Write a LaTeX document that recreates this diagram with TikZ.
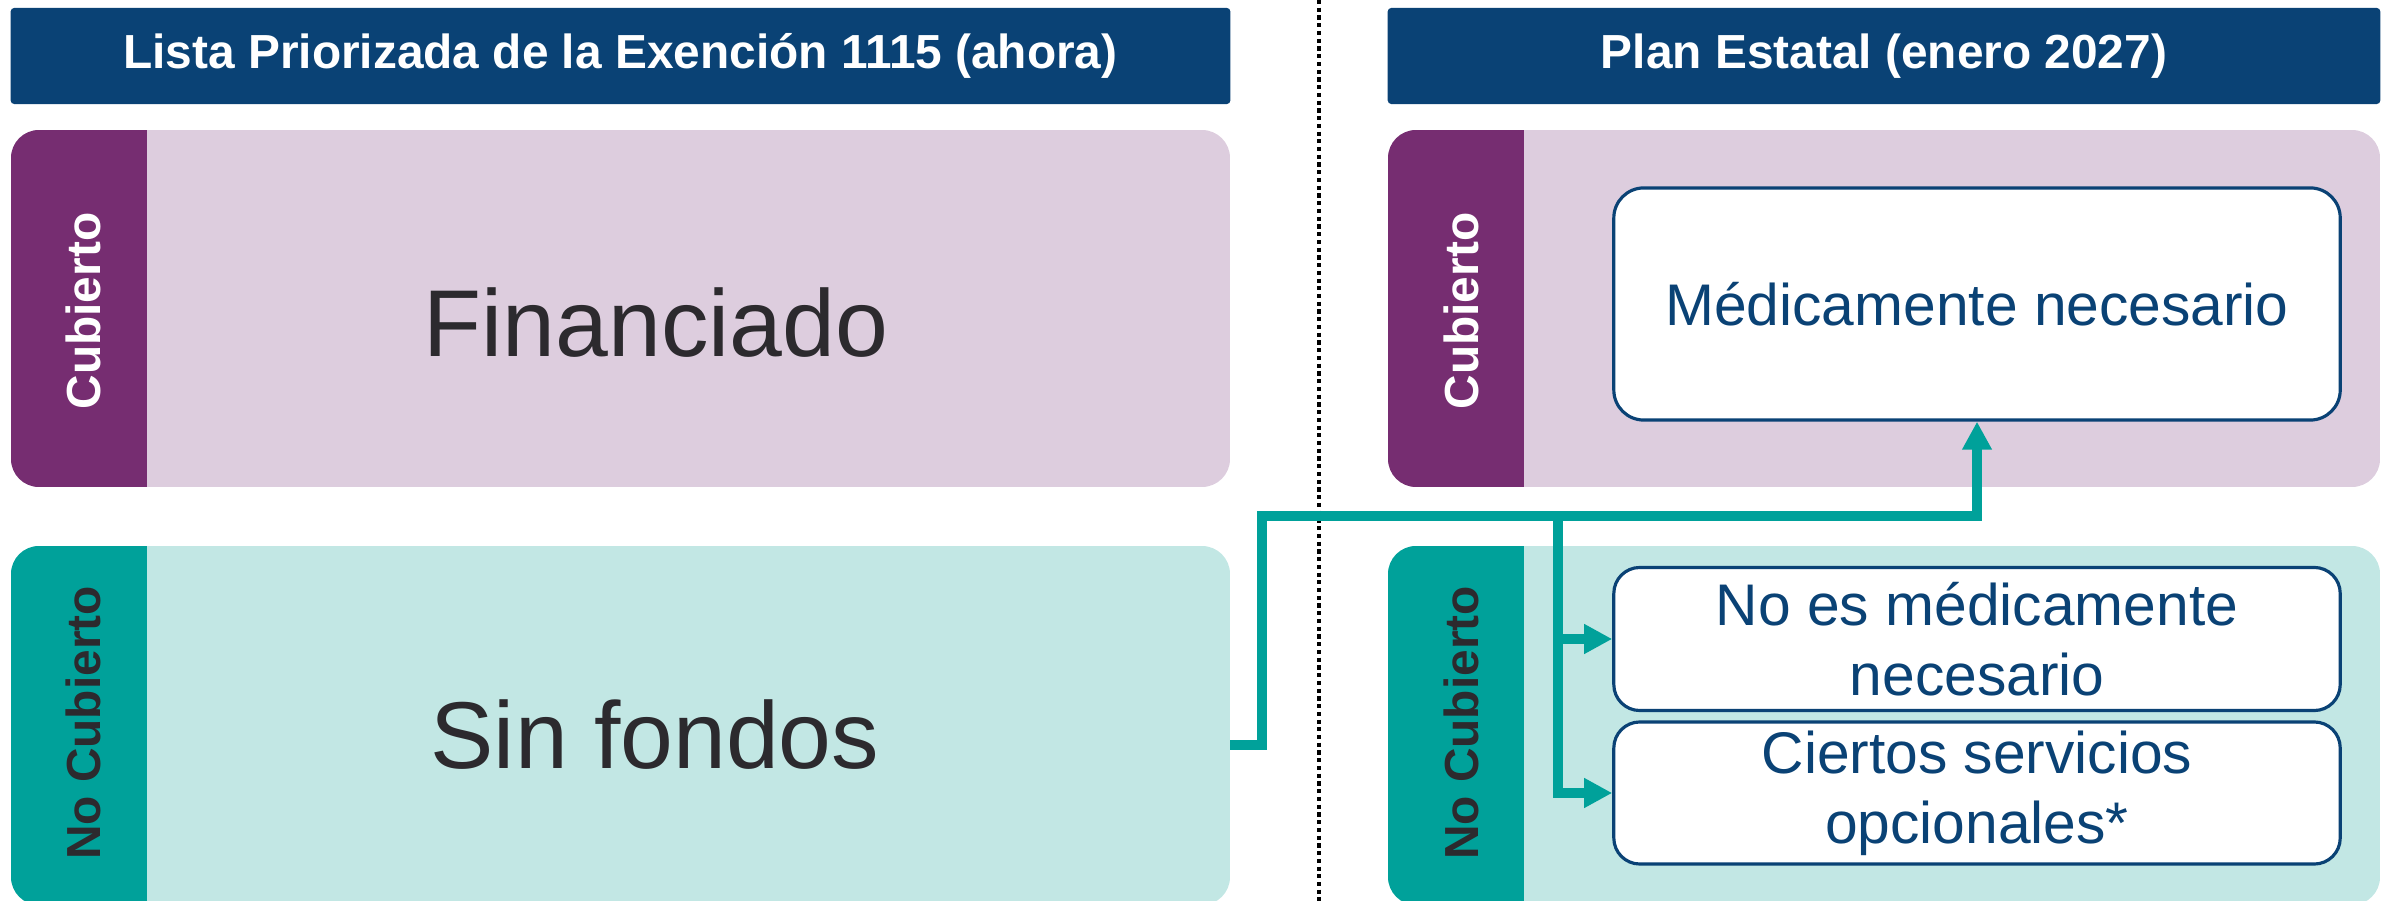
\documentclass[tikz,border=0pt]{standalone}
\usepackage{fontspec}
\setmainfont{Liberation Sans}
\usetikzlibrary{arrows.meta}
\definecolor{hdrblue}{HTML}{0A4275}
\definecolor{cubP}{HTML}{762D71}
\definecolor{cubPlight}{HTML}{DDCDDE}
\definecolor{nocT}{HTML}{00A19A}
\definecolor{nocTlight}{HTML}{C2E7E4}
\definecolor{txtgray}{HTML}{2C2A2E}

\begin{document}
\begin{tikzpicture}[x=0.01cm, y=-0.01cm,
  hdr/.style={fill=hdrblue, text=white, rounded corners=1pt, inner sep=0pt,
    minimum height=0.96cm, font=\bfseries\fontsize{13.6}{16}\selectfont},
  sidelbl/.style={rotate=90, inner sep=0pt, font=\bfseries\fontsize{13.6}{16}\selectfont},
  bigtxt/.style={text=txtgray, inner sep=0pt, font=\fontsize{27}{32}\selectfont},
  optbox/.style={draw=hdrblue, line width=0.9pt, fill=white, rounded corners=0.26cm,
    text=hdrblue, align=center, inner sep=0pt, minimum width=7.26cm,
    font=\fontsize{16.7}{20}\selectfont},
  flow/.style={draw=nocT, line width=2.6pt, -{Triangle[length=0.28cm, width=0.28cm]}}
]
\useasboundingbox (0,0) rectangle (2395,901);

\node[hdr, minimum width=12.19cm] (hdrL) at (620.5,56) {Lista Priorizada de la Exención 1115 (ahora)};
\node[hdr, minimum width=9.92cm] (hdrR) at (1884,56) {Plan Estatal (enero 2027)};

\draw[line width=1.1pt, dash pattern=on 1.2pt off 1pt] (1319,0) -- (1319,901);

% ahora
\begin{scope}
  \clip[rounded corners=0.28cm] (11,130) rectangle (1230,487);
  \fill[cubPlight] (11,130) rectangle (1230,487);
  \fill[cubP] (11,130) rectangle (147,487);
\end{scope}
\begin{scope}
  \clip[rounded corners=0.28cm] (11,546) rectangle (1230,905);
  \fill[nocTlight] (11,546) rectangle (1230,905);
  \fill[nocT] (11,546) rectangle (147,905);
\end{scope}
\node[sidelbl, text=white] (cubL) at (83,311) {Cubierto};
\node[sidelbl, text=txtgray] (nocL) at (83,723) {No Cubierto};
\node[bigtxt, anchor=base] (fin) at (656,357) {Financiado};
\node[bigtxt, anchor=base] (sinf) at (655,768) {Sin fondos};

% enero 2027
\begin{scope}
  \clip[rounded corners=0.28cm] (1388,130) rectangle (2380,487);
  \fill[cubPlight] (1388,130) rectangle (2380,487);
  \fill[cubP] (1388,130) rectangle (1524,487);
\end{scope}
\begin{scope}
  \clip[rounded corners=0.28cm] (1388,546) rectangle (2380,905);
  \fill[nocTlight] (1388,546) rectangle (2380,905);
  \fill[nocT] (1388,546) rectangle (1524,905);
\end{scope}
\node[sidelbl, text=white] (cubR) at (1461,311) {Cubierto};
\node[sidelbl, text=txtgray] (nocR) at (1461,723) {No Cubierto};

\node[optbox, minimum height=2.32cm, rounded corners=0.3cm] (med) at (1977,304) {Médicamente necesario};
\node[optbox, minimum height=1.43cm] (noes) at (1977,639) {No es médicamente\\necesario};
\node[optbox, minimum height=1.42cm] (cier) at (1977,793) {Ciertos servicios\\opcionales*};

\coordinate (src) at (1230,745);
\coordinate (bend) at (1262,516);
\coordinate (split) at (1558,516);
\draw[flow] (src) -| (bend) -| (med.south);
\draw[flow] (split) |- (noes.west);
\draw[flow] (split) |- (cier.west);

\end{tikzpicture}
\end{document}
